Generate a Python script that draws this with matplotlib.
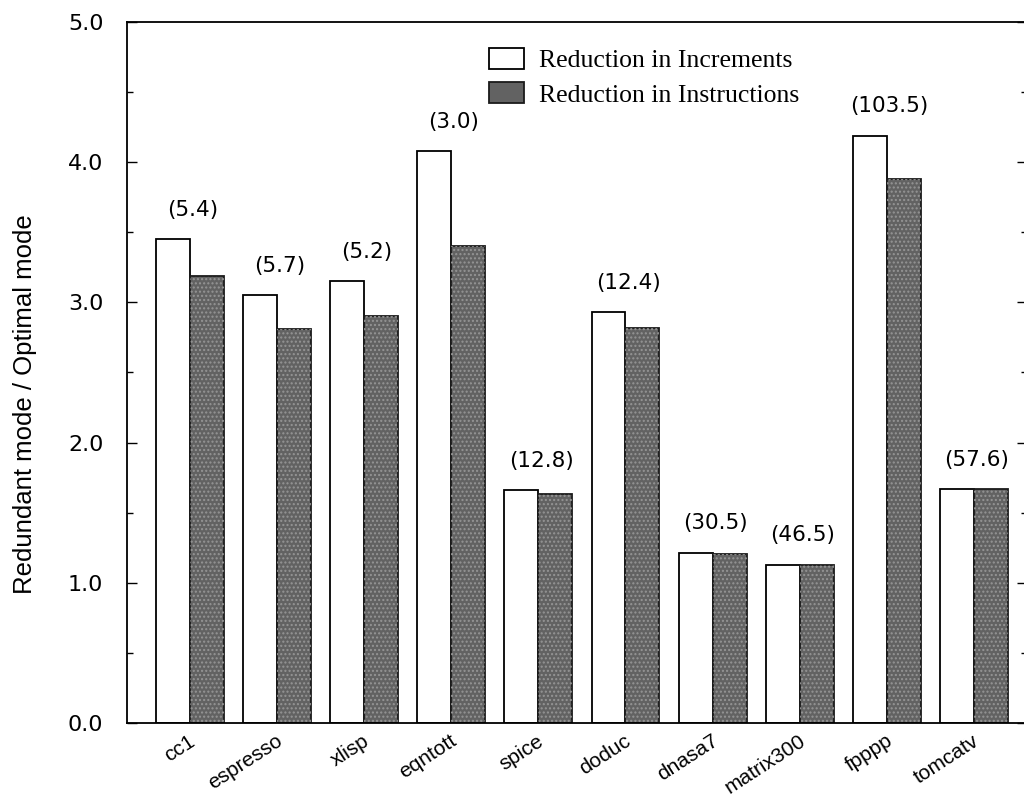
import matplotlib
matplotlib.use("Agg")
import matplotlib.pyplot as plt
import matplotlib.transforms as mtransforms
from matplotlib import font_manager
import numpy as np

# Benchmarks and measured ratios (redundant mode / optimal mode)
benchmarks = ["cc1", "espresso", "xlisp", "eqntott", "spice",
              "doduc", "dnasa7", "matrix300", "fpppp", "tomcatv"]
reduction_increments = [3.45, 3.05, 3.15, 4.08, 1.66, 2.93, 1.215, 1.13, 4.19, 1.67]
reduction_instructions = [3.19, 2.81, 2.90, 3.40, 1.63, 2.82, 1.205, 1.125, 3.88, 1.67]
bracket_values = [5.4, 5.7, 5.2, 3.0, 12.8, 12.4, 30.5, 46.5, 103.5, 57.6]
y_ticks = [0.0, 1.0, 2.0, 3.0, 4.0, 5.0]
y_tick_labels = ["0.0", "1.0", "2.0", "3.0", "4.0", "5.0"]

available = {f.name for f in font_manager.fontManager.ttflist}
if "Liberation Sans Narrow" in available:
    ylabel_family, ylabel_size = "Liberation Sans Narrow", 22
else:
    ylabel_family, ylabel_size = "Liberation Sans", 18.5

fig = plt.figure(figsize=(10.24, 7.99), dpi=100)
ax = fig.add_axes([127 / 1024, 76 / 799, 900 / 1024, 701 / 799])

x = np.arange(len(benchmarks))
width = 0.39
dark = "#626262"

b1 = ax.bar(x - width / 2, reduction_increments, width, color="white",
            edgecolor="black", linewidth=1.3, label="Reduction in Increments", zorder=2)
b2 = ax.bar(x + width / 2, reduction_instructions, width, color=dark,
            edgecolor="#1a1a1a", linewidth=1.3, label="Reduction in Instructions", zorder=2)
# halftone texture on the dark bars
ax.bar(x + width / 2, reduction_instructions, width, facecolor="none",
       edgecolor="#959595", linewidth=0, hatch="....", zorder=3)

for xi, h, v in zip(x, reduction_increments, bracket_values):
    ax.annotate(f"({v:.1f})", xy=(xi, h), xytext=(2, 21), textcoords="offset points",
                ha="center", va="center", fontsize=15.5, family="DejaVu Sans")

ax.set_xlim(-0.723, 9.61)
ax.set_ylim(0, 5.0)

ax.set_yticks(y_ticks, y_tick_labels, fontsize=16, family="DejaVu Sans")
ax.set_yticks(np.arange(0.5, 5.0, 1.0), minor=True)
ax.tick_params(axis="y", which="major", direction="in", length=7.5, width=1.0,
               pad=17, right=True)
ax.tick_params(axis="y", which="minor", direction="in", length=4.5, width=1.0, right=True)

ax.set_xticks(x, benchmarks, rotation=33, ha="right", rotation_mode="anchor",
              fontsize=15, family="Liberation Sans")
ax.tick_params(axis="x", length=0, pad=6)
shift = mtransforms.ScaledTranslation(-1 / 72, 0, fig.dpi_scale_trans)
for lab in ax.get_xticklabels():
    lab.set_transform(lab.get_transform() + shift)

for side in ("left", "bottom", "top", "right"):
    ax.spines[side].set_linewidth(1.3)

fig.text(25 / 1024, 1 - 404 / 799, "Redundant mode / Optimal mode", rotation=90,
         ha="center", va="center", fontsize=ylabel_size, family=ylabel_family)

ax.legend(handles=[b1, b2], loc="upper left",
          bbox_to_anchor=(476 / 1024, 1 - 35 / 799), bbox_transform=fig.transFigure,
          frameon=False, borderpad=0, handlelength=1.35, handleheight=0.9,
          handletextpad=0.6, labelspacing=0.38,
          prop={"family": "Liberation Serif", "size": 18.5})

fig.savefig("out.png", dpi=100)
